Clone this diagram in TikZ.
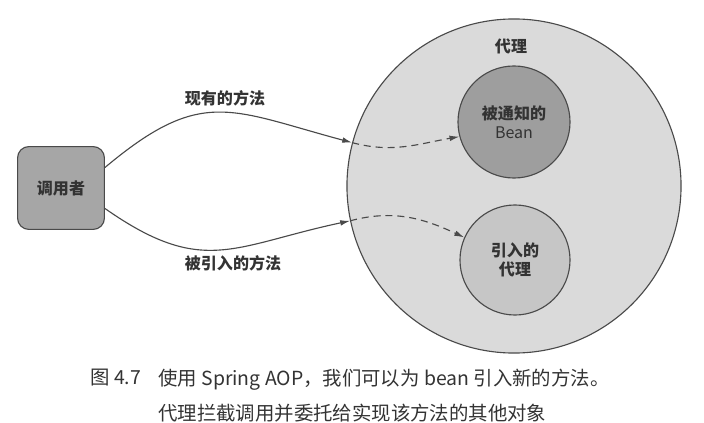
\documentclass[tikz,border=0pt]{standalone}
\usepackage{fontspec}
\setmainfont{Noto Sans CJK SC}
\usetikzlibrary{arrows.meta}

\definecolor{linegray}{HTML}{4A4A4A}
\definecolor{callergray}{HTML}{A6A6A6}
\definecolor{proxygray}{HTML}{DADADA}
\definecolor{beangray}{HTML}{9E9E9E}
\definecolor{introgray}{HTML}{C6C6C6}
\definecolor{textgray}{HTML}{333333}

\begin{document}
\begin{tikzpicture}[x=0.025cm, y=0.025cm,
    >={Latex[length=7pt,width=4pt]},
    conn/.style={draw=linegray, line width=0.8pt},
    dashconn/.style={conn, dash pattern=on 5pt off 3.5pt},
    ball/.style={circle, draw=linegray, line width=0.8pt, align=center, inner sep=0pt},
    lbl/.style={text=textgray, font=\fontsize{11.4}{13.8}\selectfont\bfseries}]
    \useasboundingbox (0,0) rectangle (704,422);
    % caller and proxy
    \node[draw=linegray, line width=0.8pt, fill=callergray, rounded corners=8pt,
          minimum width=2.17cm, minimum height=2.07cm, lbl] (caller) at (61,234) {调用者};
    \node[ball, fill=proxygray, minimum size=8.35cm] (proxy) at (514,236) {};
    \node[lbl] (proxyname) at (511,376) {代理};
    \node[ball, fill=beangray, minimum size=2.8cm, lbl] (bean) at (514,300) {被通知的\\{\mdseries Bean}};
    \node[ball, fill=introgray, minimum size=2.75cm, lbl] (intro) at (515,162) {引入的\\代理};
    % calls
    \draw[conn, ->] (caller.25) to[out=40, in=165, looseness=1.3] (proxy.165);
    \draw[conn, ->] (caller.335) to[out=-35, in=192, looseness=1.25] (proxy.192);
    \draw[dashconn, ->] (proxy.165) to[out=-15, in=190] (bean.195);
    \draw[dashconn, ->] (proxy.192) to[out=15, in=155] (intro.156);
    \node[lbl] (oldm) at (225,324) {现有的方法};
    \node[lbl] (newm) at (233,159) {被引入的方法};
    % caption
    \node[anchor=west, inner sep=0pt, text=textgray, font=\fontsize{13.8}{24.8}\selectfont] (figno) at (90,44) {图 4.7};
    \node[anchor=west, inner sep=0pt, align=left, text=textgray, font=\fontsize{13.8}{24.8}\selectfont] (captext) at (158,26.5)
        {使用 Spring AOP，我们可以为 bean 引入新的方法。\\代理拦截调用并委托给实现该方法的其他对象};
\end{tikzpicture}
\end{document}
